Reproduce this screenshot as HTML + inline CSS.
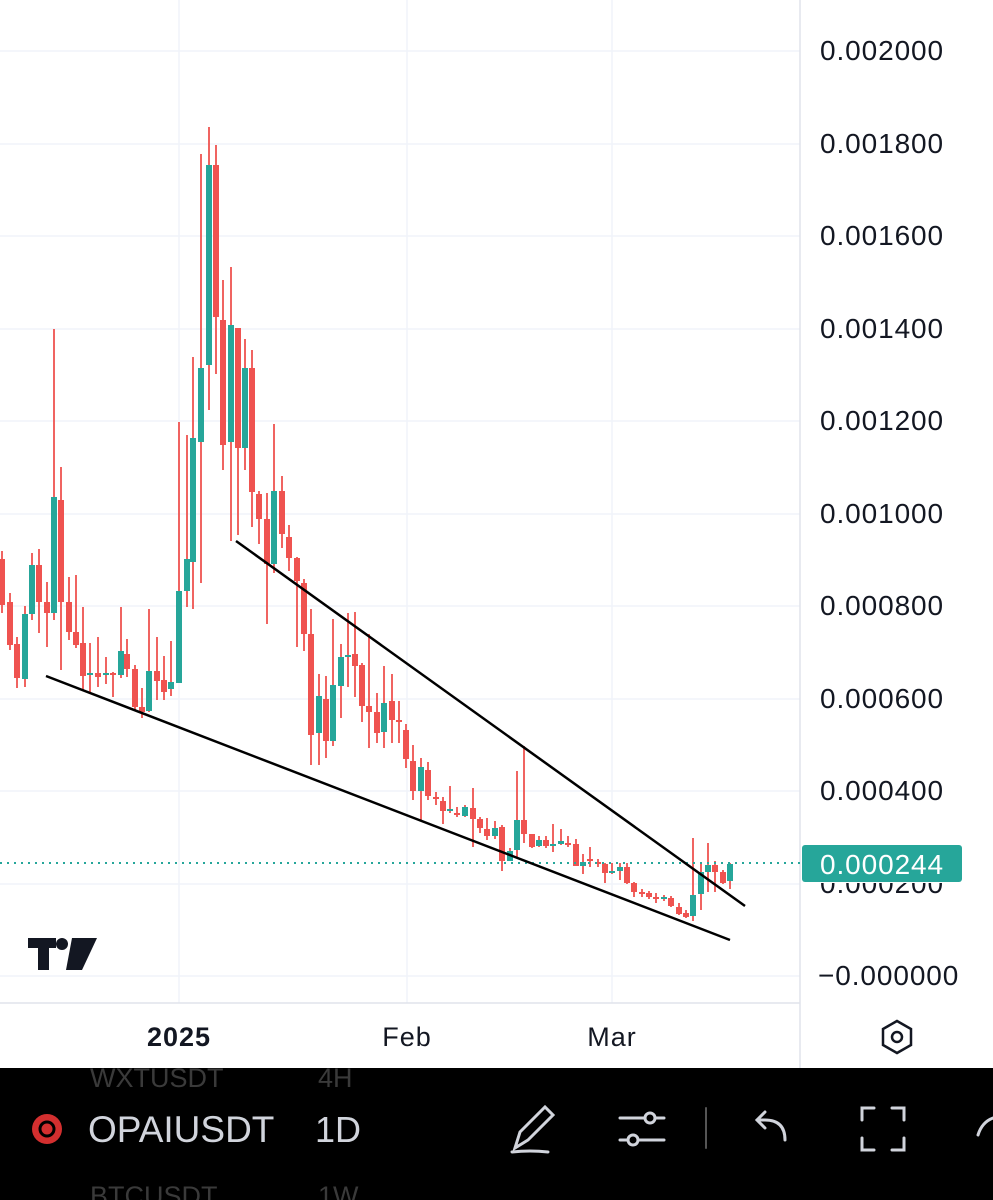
<!DOCTYPE html>
<html><head><meta charset="utf-8"><style>
html,body{margin:0;padding:0;background:#fff;}
body{width:993px;height:1200px;overflow:hidden;position:relative;font-family:"Liberation Sans",sans-serif;}
.ax{position:absolute;left:820px;font-size:28px;color:#131722;letter-spacing:0.9px;}
.tl{position:absolute;top:1022px;font-size:27px;color:#131722;transform:translateX(-50%);letter-spacing:1px;}
</style></head><body>
<svg id="ch" width="993" height="1200" style="position:absolute;left:0;top:0">
<g stroke="#f0f3fa" stroke-width="1.5">
<line x1="0" y1="51" x2="800" y2="51"/><line x1="0" y1="144" x2="800" y2="144"/>
<line x1="0" y1="236" x2="800" y2="236"/><line x1="0" y1="329" x2="800" y2="329"/>
<line x1="0" y1="421" x2="800" y2="421"/><line x1="0" y1="514" x2="800" y2="514"/>
<line x1="0" y1="606" x2="800" y2="606"/><line x1="0" y1="699" x2="800" y2="699"/>
<line x1="0" y1="791" x2="800" y2="791"/><line x1="0" y1="884" x2="800" y2="884"/>
<line x1="0" y1="976" x2="800" y2="976"/>
<line x1="179" y1="0" x2="179" y2="1003"/><line x1="407" y1="0" x2="407" y2="1003"/><line x1="612" y1="0" x2="612" y2="1003"/>
</g>
<line x1="800" y1="0" x2="800" y2="1068" stroke="#e0e3eb" stroke-width="1.5"/>
<line x1="0" y1="1003" x2="800" y2="1003" stroke="#e0e3eb" stroke-width="1.5"/>
<g id="cd"></g>
<line x1="0" y1="863" x2="800" y2="863" stroke="#26a69a" stroke-width="2" stroke-dasharray="2,5"/>
<line x1="46" y1="676" x2="730" y2="940" stroke="#000" stroke-width="2.5"/>
<line x1="236" y1="541" x2="745" y2="906" stroke="#000" stroke-width="2.5"/>
<rect x="802" y="845" width="160" height="37" rx="3" fill="#26a69a"/>
<text x="820" y="874" font-size="28" fill="#fff" font-family="Liberation Sans" letter-spacing="0.9">0.000244</text>
<g fill="#131722">
<rect x="28" y="938" width="28" height="10"/><rect x="38" y="938" width="11" height="32"/>
<circle cx="62" cy="944" r="6"/>
<polygon points="72,938 97,938 82,970 66,970"/>
</g>
<polygon points="897,1021 911,1029 911,1045 897,1053 883,1045 883,1029" fill="none" stroke="#131722" stroke-width="2.5"/>
<circle cx="897" cy="1037" r="5" fill="none" stroke="#131722" stroke-width="2.5"/>
<rect x="0" y="1068" width="993" height="132" fill="#000"/>
<text x="90" y="1087" font-size="27" fill="#3a3a3a">WXTUSDT</text><text x="318" y="1087" font-size="27" fill="#3a3a3a">4H</text>
<text x="90" y="1205" font-size="27" fill="#3a3a3a">BTCUSDT</text><text x="318" y="1205" font-size="27" fill="#3a3a3a">1W</text>
<circle cx="47" cy="1129" r="15" fill="#d32f2f"/><circle cx="47" cy="1129" r="7" fill="none" stroke="#000" stroke-width="3"/>
<text x="88" y="1142" font-size="37" fill="#d1d4dc">OPAIUSDT</text>
<text x="315" y="1142" font-size="36" fill="#d1d4dc">1D</text>
<g stroke="#d1d4dc" stroke-width="3" fill="none" stroke-linecap="round">
<path d="M515,1148 L520,1132 L545,1107 L553,1115 L528,1140 Z M512,1152 Q530,1150 548,1152"/>
<line x1="620" y1="1118" x2="664" y2="1118"/><line x1="620" y1="1140" x2="664" y2="1140"/>
<circle cx="650" cy="1118" r="5" fill="#000"/><circle cx="633" cy="1140" r="5" fill="#000"/>
<line x1="706" y1="1108" x2="706" y2="1148" stroke="#555" stroke-width="2"/>
<path d="M785,1140 Q785,1120 765,1120 L757,1120 M765,1112 L757,1120 L765,1128"/>
<path d="M862,1120 V1108 H874 M892,1108 H904 V1120 M904,1138 V1150 H892 M874,1150 H862 V1138"/>
<path d="M978,1135 Q982,1122 993,1118"/>
</g>
</svg>
<div class="ax" style="top:35px">0.002000</div>
<div class="ax" style="top:128px">0.001800</div>
<div class="ax" style="top:220px">0.001600</div>
<div class="ax" style="top:313px">0.001400</div>
<div class="ax" style="top:405px">0.001200</div>
<div class="ax" style="top:498px">0.001000</div>
<div class="ax" style="top:590px">0.000800</div>
<div class="ax" style="top:683px">0.000600</div>
<div class="ax" style="top:775px">0.000400</div>
<div class="ax" style="top:868px;clip-path:inset(15px 0 0 0)">0.000200</div>
<div class="ax" style="top:960px;left:818px">−0.000000</div>
<div class="tl" style="left:179px;font-weight:bold">2025</div>
<div class="tl" style="left:407px">Feb</div>
<div class="tl" style="left:612px">Mar</div>
<script>
var d=[
[2,551,559,605,613,'r'],[10,593,602,645,650,'r'],[17,637,644,678,688,'r'],[25,606,614,679,687,'g'],
[32,553,565,614,620,'g'],[39,549,565,602,633,'r'],[47,582,602,613,647,'r'],[54,329,497,613,620,'g'],
[61,467,500,602,670,'r'],[69,577,602,632,640,'r'],[76,575,632,645,648,'r'],[83,607,643,676,690,'r'],
[90,643,673,675,693,'g'],[98,637,673,677,687,'r'],[106,657,673,675,684,'g'],[113,672,673,675,697,'r'],
[121,607,651,675,678,'g'],[127,639,654,669,677,'r'],[135,665,669,707,710,'r'],[142,688,707,712,718,'r'],
[149,609,671,711,712,'g'],[157,637,671,681,700,'r'],[164,656,680,692,700,'r'],[171,641,682,689,696,'g'],
[179,422,591,683,683,'g'],[187,435,559,591,607,'g'],[193,357,438,562,609,'g'],[201,154,368,442,583,'g'],
[209,127,165,365,410,'g'],[216,145,165,317,374,'r'],[223,280,320,445,470,'r'],[231,267,325,442,541,'g'],
[238,329,328,448,535,'r'],[245,339,368,448,470,'g'],[252,350,368,492,527,'r'],[259,491,494,519,544,'r'],
[267,493,519,564,624,'r'],[274,424,491,564,573,'g'],[282,476,491,534,548,'r'],[289,525,537,558,571,'r'],
[297,557,558,581,647,'r'],[304,579,583,634,651,'r'],[311,609,634,735,765,'r'],[319,674,696,733,765,'g'],
[326,676,699,741,758,'r'],[333,619,685,741,746,'g'],[341,644,657,686,718,'g'],[348,613,655,657,687,'g'],
[355,612,654,666,697,'r'],[362,663,665,706,722,'r'],[369,634,706,712,748,'r'],[377,693,712,733,743,'r'],
[384,666,703,732,748,'g'],[392,674,701,720,743,'r'],[399,701,720,722,743,'r'],[406,724,730,759,768,'r'],
[413,745,761,791,800,'r'],[421,758,767,791,820,'g'],[428,762,770,796,800,'r'],[436,792,797,799,805,'r'],
[443,797,801,811,824,'r'],[450,786,809,811,813,'g'],[457,807,813,815,817,'r'],[465,805,807,816,817,'g'],
[473,788,808,819,847,'r'],[480,817,819,828,833,'r'],[487,818,829,836,840,'r'],[495,821,828,836,839,'g'],
[502,825,827,861,871,'r'],[510,848,851,861,861,'g'],[517,771,820,850,858,'g'],[524,746,820,834,843,'r'],
[532,834,834,847,848,'r'],[539,836,840,846,847,'g'],[546,836,840,846,848,'r'],[553,824,844,846,852,'g'],
[561,829,841,844,845,'g'],[568,836,843,845,847,'r'],[576,839,844,866,866,'r'],[583,854,862,866,874,'g'],
[590,847,859,861,867,'r'],[598,859,862,864,867,'r'],[605,863,864,873,883,'r'],[612,863,871,873,874,'g'],
[620,863,867,871,880,'g'],[627,863,867,883,884,'r'],[634,882,883,892,897,'r'],[642,889,892,894,897,'r'],
[649,891,893,897,899,'r'],[656,893,897,899,903,'r'],[664,895,897,899,901,'g'],[671,896,898,906,907,'r'],
[679,903,907,914,915,'r'],[686,910,913,917,918,'r'],[693,838,895,916,921,'g'],[701,863,872,894,910,'g'],
[708,843,865,872,892,'g'],[715,861,865,872,892,'r'],[723,870,872,883,884,'r'],[730,863,864,881,889,'g']];
var s='';
d.forEach(function(c){var col=c[5]=='g'?'#26a69a':'#ef5350';var h=Math.max(2,c[3]-c[2]);
s+='<rect x="'+(c[0]-0.9)+'" y="'+c[1]+'" width="1.8" height="'+(c[4]-c[1])+'" fill="#ef5350"/>';
s+='<rect x="'+(c[0]-3)+'" y="'+c[2]+'" width="6" height="'+h+'" fill="'+col+'"/>';});
document.getElementById('cd').innerHTML=s;
</script>
</body></html>
